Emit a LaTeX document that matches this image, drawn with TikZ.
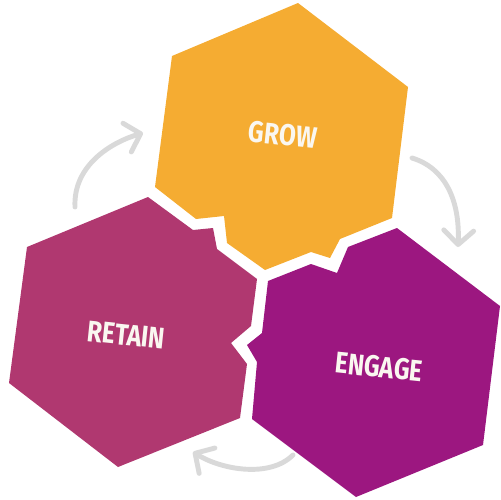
\documentclass[tikz,border=0pt]{standalone}
\usepackage{fontspec}
\setmainfont{Fira Sans}
\usetikzlibrary{arrows.meta}
\definecolor{growc}{RGB}{245,172,50}
\definecolor{retainc}{RGB}{176,56,112}
\definecolor{engagec}{RGB}{156,23,128}
\definecolor{arrowc}{RGB}{217,217,217}
\definecolor{txtc}{RGB}{250,247,240}
\begin{document}
\begin{tikzpicture}[x=0.02cm,y=-0.02cm,
  hexlabel/.style={text=txtc,font=\fontsize{17}{17}\selectfont\bfseries,rotate=-6,xscale=0.82,transform shape,inner sep=0pt},
  cyclearrow/.style={draw=arrowc,line width=2.8pt,line cap=round,-{Straight Barb[length=8pt,width=17pt,round]}}]
\useasboundingbox (0,0) rectangle (500,500);
% GROW hexagon
\fill[growc] (298,3) -- (408,87) -- (392,218) -- (340,239) -- (330,258) -- (311,252)
  -- (265,270) -- (227,243) -- (224,216) -- (196,219) -- (155,187) -- (172,56) -- cycle;
% RETAIN hexagon
\fill[retainc] (148,197) -- (193,230) -- (213,228) -- (217,249) -- (257,279) -- (251,326)
  -- (231,343) -- (247,364) -- (240,418) -- (118,467) -- (9,383) -- (27,247) -- cycle;
% ENGAGE hexagon
\fill[engagec] (397,228) -- (500,306) -- (483,445) -- (356,497) -- (252,419) -- (257,362)
  -- (247,345) -- (262,333) -- (268,281) -- (311,264) -- (337,273) -- (348,247) -- cycle;
% labels
\node[hexlabel] (grow) at (283,135) {GROW};
\node[hexlabel] (retain) at (126,335) {RETAIN};
\node[hexlabel] (engage) at (379,367) {ENGAGE};
% arrows
\coordinate (a1s) at (75,207);
\coordinate (a1e) at (143,133);
\coordinate (a2s) at (412,158);
\coordinate (a2e) at (458,247);
\coordinate (a3s) at (293,455);
\coordinate (a3e) at (193,452);
\draw[cyclearrow] (a1s) .. controls (73,165) and (112,142) .. (a1e);
\draw[cyclearrow] (a2s) .. controls (445,168) and (460,200) .. (a2e);
\draw[cyclearrow] (a3s) .. controls (270,478) and (222,470) .. (a3e);
\end{tikzpicture}
\end{document}
